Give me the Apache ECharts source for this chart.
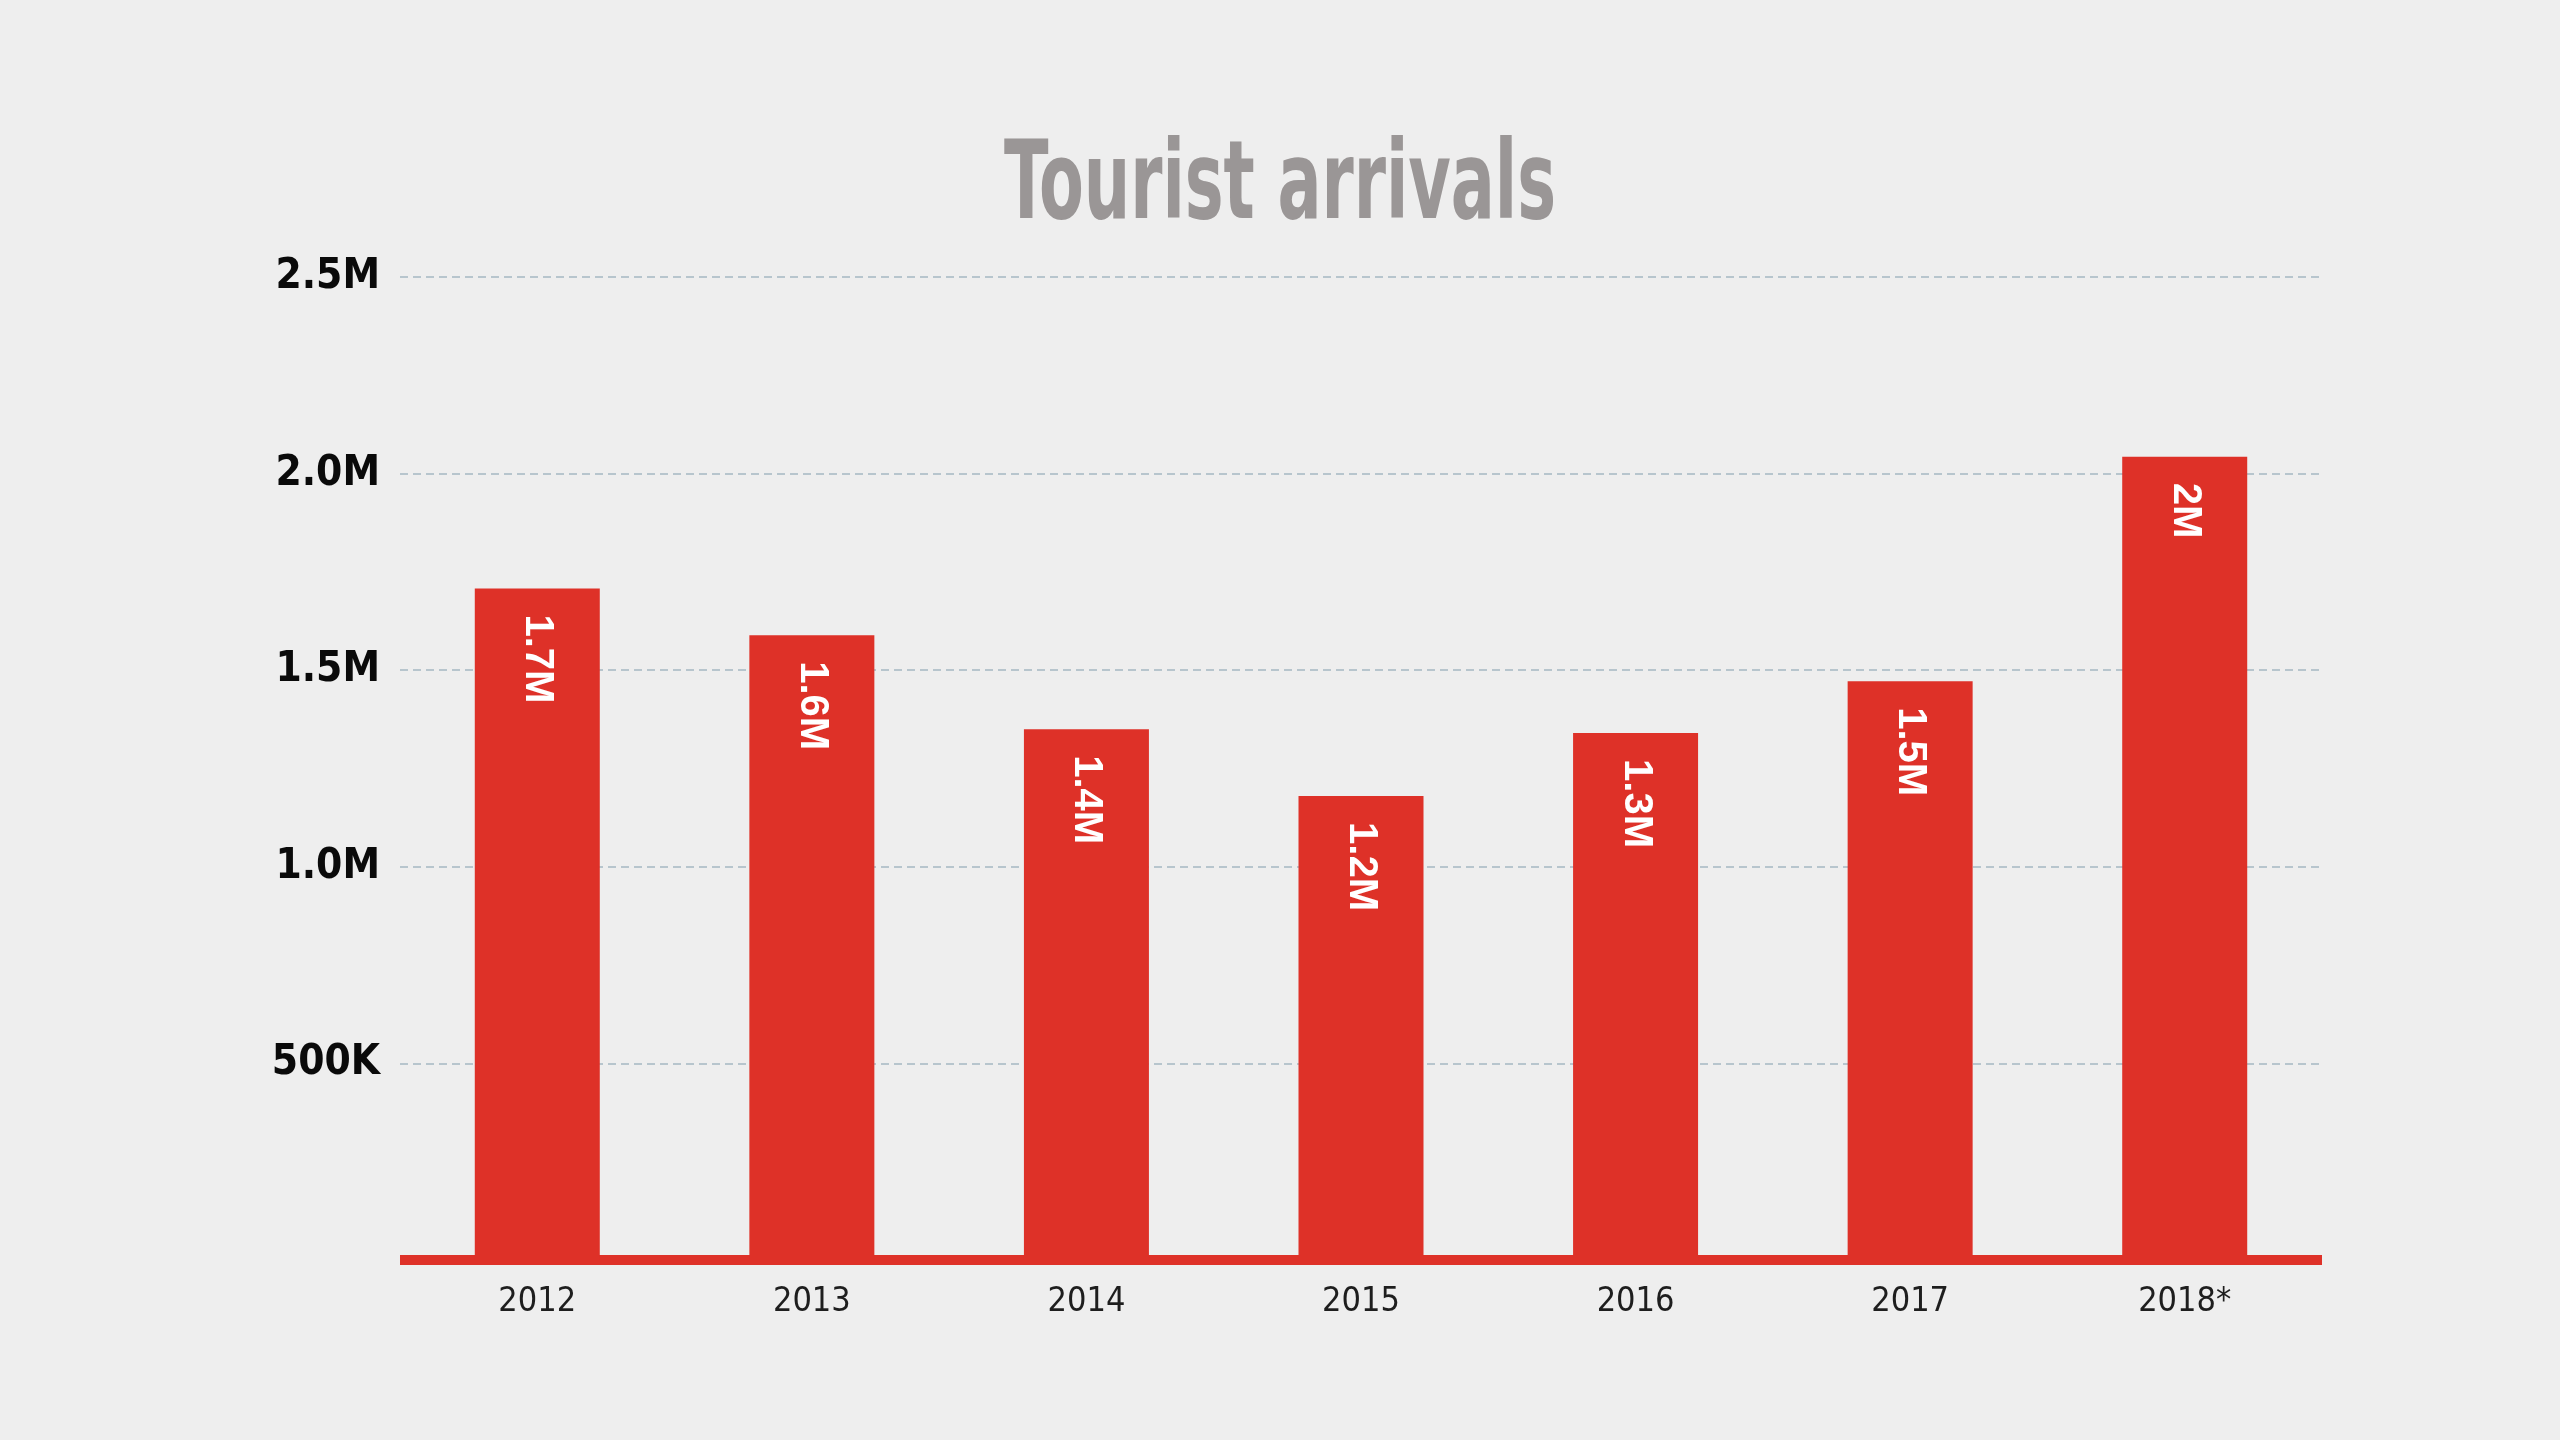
<!DOCTYPE html>
<html>
<head>
<meta charset="utf-8">
<title>Tourist arrivals</title>
<script src="https://cdn.jsdelivr.net/npm/echarts@6/dist/echarts.min.js"></script>
<style>
    html, body {margin: 0; padding: 0; background: #eeeeee;}
    #chart {width: 2560px; height: 1440px;}
</style>
</head>
<body>
<div id="chart"></div>
<script>
// data
const years = ['2012', '2013', '2014', '2015', '2016', '2017', '2018*'];
const arrivals = [1708000, 1589000, 1350000, 1180000, 1340000, 1472000, 2043000];
const titleText = 'Tourist arrivals';

const RED = '#de3128';
const narrow = '"Liberation Sans Narrow", "DejaVu Sans Condensed", "Liberation Sans", sans-serif';

// squeeze the title to the condensed width seen in the picture
const titleFont = 'bold 108px ' + narrow;
const ctx = document.createElement('canvas').getContext('2d');
ctx.font = titleFont;
const titleScale = 552 / ctx.measureText(titleText).width;

const yLabel = (v) => {
    if (v === 0) return '';
    if (v < 1000000) return (v / 1000) + 'K';
    return (v / 1000000).toFixed(1) + 'M';
};

const barLabel = (v) => {
    let m = Math.round(v / 100000) / 10;
    return m + 'M';
};

const chart = echarts.init(document.getElementById('chart'));
chart.setOption({
    backgroundColor: '#eeeeee',
    animation: false,
    graphic: [{
        type: 'text',
        x: 1280,
        y: 190,
        scaleX: titleScale,
        style: {
            text: titleText,
            font: titleFont,
            fill: '#9a9696',
            textAlign: 'center',
            textVerticalAlign: 'middle'
        }
    }],
    grid: {left: 400, right: 238, top: 277, bottom: 180},
    xAxis: {
        type: 'category',
        data: years,
        axisLine: {lineStyle: {color: RED, width: 10, cap: 'butt'}},
        axisTick: {show: false},
        axisLabel: {
            color: '#1e1e1e',
            fontFamily: narrow,
            fontSize: 34,
            margin: 25
        }
    },
    yAxis: {
        type: 'value',
        min: 0,
        max: 2500000,
        interval: 500000,
        axisLine: {show: false},
        axisTick: {show: false},
        axisLabel: {
            formatter: yLabel,
            color: '#0a0a0a',
            fontFamily: narrow,
            fontWeight: 'bold',
            fontSize: 42,
            margin: 20
        },
        splitLine: {
            lineStyle: {color: '#b7c5cd', width: 2, type: [8, 5]}
        }
    },
    series: [{
        type: 'bar',
        data: arrivals,
        barWidth: 125,
        itemStyle: {color: RED},
        label: {
            show: true,
            position: 'insideTop',
            distance: 26,
            rotate: -90,
            align: 'left',
            verticalAlign: 'middle',
            formatter: (p) => barLabel(p.value),
            color: '#ffffff',
            fontFamily: '"Liberation Sans", Arial, sans-serif',
            fontWeight: 'bold',
            fontSize: 40
        }
    }]
});
</script>
</body>
</html>
